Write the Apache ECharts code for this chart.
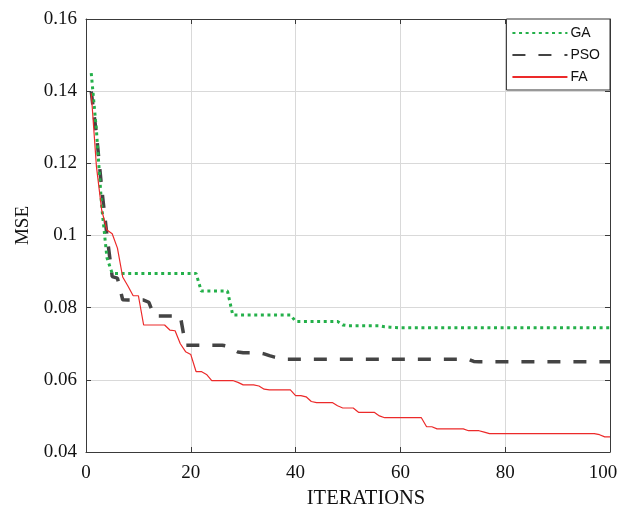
<!DOCTYPE html>
<html>
<head>
<meta charset="utf-8">
<script src="https://cdn.jsdelivr.net/npm/echarts@6/dist/echarts.min.js"></script>
<style>html,body{margin:0;padding:0;background:#fff;}#c{width:618px;height:512px;}</style>
</head>
<body>
<div id="c"></div>
<script>
// Iteration numbers (x values)
var iterations = [];
for (var k = 1; k <= 100; k++) iterations.push(k);

var xTicks = [0, 20, 40, 60, 80, 100];
var yTicks = [0.04, 0.06, 0.08, 0.1, 0.12, 0.14, 0.16];

var gaValues = [
  0.145, 0.129, 0.108, 0.0938, 0.0895,
  0.0895, 0.0895, 0.0895, 0.0895, 0.0895, 0.0895, 0.0895, 0.0895, 0.0895, 0.0895, 0.0895, 0.0895, 0.0895, 0.0895, 0.0895, 0.0895,
  0.0846, 0.0846, 0.0846, 0.0846, 0.0846, 0.0846,
  0.0780, 0.0780, 0.0780, 0.0780, 0.0780, 0.0780, 0.0780, 0.0780, 0.0780, 0.0780, 0.0780, 0.0780,
  0.0762, 0.0762, 0.0762, 0.0762, 0.0762, 0.0762, 0.0762, 0.0762, 0.0762,
  0.0752,
  0.0750, 0.0750, 0.0750, 0.0750, 0.0750, 0.0750, 0.0750,
  0.0747, 0.0746, 0.0745,
  0.0744, 0.0744, 0.0744, 0.0744, 0.0744, 0.0744, 0.0744, 0.0744, 0.0744, 0.0744,
  0.0744, 0.0744, 0.0744, 0.0744, 0.0744, 0.0744, 0.0744, 0.0744, 0.0744, 0.0744,
  0.0744, 0.0744, 0.0744, 0.0744, 0.0744, 0.0744, 0.0744, 0.0744, 0.0744, 0.0744,
  0.0744, 0.0744, 0.0744, 0.0744, 0.0744, 0.0744, 0.0744, 0.0744, 0.0744, 0.0744,
  0.0744
];

var psoValues = [
  0.1399, 0.128, 0.113, 0.100, 0.0886, 0.0882, 0.0822,
  0.0821, 0.0821, 0.0821, 0.0821,
  0.0815,
  0.0777, 0.0777, 0.0777, 0.0777, 0.0777, 0.0777,
  0.0696, 0.0696, 0.0696, 0.0696, 0.0696, 0.0696, 0.0696, 0.0696,
  0.0693, 0.0685, 0.0677,
  0.0675, 0.0675, 0.0675, 0.0675,
  0.0672, 0.0667, 0.0663, 0.0660,
  0.0657, 0.0657, 0.0657, 0.0657, 0.0657, 0.0657, 0.0657, 0.0657, 0.0657, 0.0657,
  0.0657, 0.0657, 0.0657, 0.0657, 0.0657, 0.0657, 0.0657, 0.0657, 0.0657, 0.0657,
  0.0657, 0.0657, 0.0657, 0.0657, 0.0657, 0.0657, 0.0657, 0.0657, 0.0657, 0.0657,
  0.0657, 0.0657, 0.0657, 0.0657, 0.0657, 0.0657,
  0.0651,
  0.0650, 0.0650, 0.0650, 0.0650, 0.0650, 0.0650, 0.0650, 0.0650, 0.0650, 0.0650,
  0.0650, 0.0650, 0.0650, 0.0650, 0.0650, 0.0650, 0.0650, 0.0650, 0.0650, 0.0650,
  0.0650, 0.0650, 0.0650, 0.0650, 0.0650, 0.0650
];

var faValues = [
  0.1394, 0.119, 0.107, 0.1015, 0.1005, 0.0965, 0.0885, 0.0860, 0.0833, 0.0833,
  0.0752, 0.0752, 0.0752, 0.0752, 0.0752,
  0.0738, 0.0736,
  0.0700, 0.0678, 0.0670,
  0.0623, 0.0623,
  0.0615,
  0.0598, 0.0598, 0.0598, 0.0598, 0.0598,
  0.0593,
  0.0586, 0.0586, 0.0586,
  0.0583, 0.0574,
  0.0572, 0.0572, 0.0572, 0.0572, 0.0572,
  0.0556, 0.0556, 0.0553, 0.0540,
  0.0537, 0.0537, 0.0537, 0.0537,
  0.0528,
  0.0522, 0.0522, 0.0522,
  0.0510, 0.0510, 0.0510, 0.0510,
  0.0500,
  0.0495, 0.0495, 0.0495, 0.0495, 0.0495, 0.0495, 0.0495, 0.0495,
  0.0470, 0.0470,
  0.0464, 0.0464, 0.0464, 0.0464, 0.0464, 0.0464,
  0.0459, 0.0459, 0.0459,
  0.0455,
  0.0451, 0.0451, 0.0451, 0.0451, 0.0451, 0.0451, 0.0451, 0.0451, 0.0451, 0.0451,
  0.0451, 0.0451, 0.0451, 0.0451, 0.0451, 0.0451, 0.0451, 0.0451, 0.0451, 0.0451,
  0.0451,
  0.0448, 0.0442, 0.0442
];

function pairs(vals) {
  return iterations.map(function (it, i) { return [it, vals[i]]; });
}

var serif = '"Liberation Serif", "DejaVu Serif", serif';
var axisColor = '#3a3a3a';
var chart = echarts.init(document.getElementById('c'), null, { renderer: 'canvas' });

var xBase = {
  type: 'value', min: xTicks[0], max: xTicks[xTicks.length - 1], interval: 20,
  axisLine: { show: true, onZero: false, lineStyle: { color: axisColor, width: 1 } },
  axisTick: { show: true, inside: true, length: 5, lineStyle: { color: axisColor } }
};
var yBase = {
  type: 'value', min: yTicks[0], max: yTicks[yTicks.length - 1], interval: 0.02,
  axisLine: { show: true, onZero: false, lineStyle: { color: axisColor, width: 1 } },
  axisTick: { show: true, inside: true, length: 5, lineStyle: { color: axisColor } }
};

chart.setOption({
  animation: false,
  backgroundColor: '#ffffff',
  grid: { left: 86, top: 19, width: 524, height: 433, containLabel: false, outerBoundsMode: 'none' },
  legend: {
    right: 8, top: 19,
    orient: 'vertical',
    backgroundColor: '#ffffff',
    borderColor: '#333333',
    borderWidth: 1,
    borderRadius: 0,
    padding: [7, 10, 6, 5],
    itemWidth: 55, itemHeight: 14, itemGap: 8,
    itemStyle: { opacity: 0 },
    textStyle: { fontFamily: '"Liberation Sans", Arial, sans-serif', fontSize: 14, color: '#111', padding: [0, 0, 0, -2] },
    data: ['GA', 'PSO', 'FA']
  },
  xAxis: [
    Object.assign({}, xBase, {
      position: 'bottom',
      name: 'ITERATIONS', nameLocation: 'middle', nameGap: 33,
      nameTextStyle: { fontFamily: serif, fontSize: 20.5, color: '#111', padding: [0, 0, 0, 36] },
      axisLabel: {
        show: true, margin: 12, fontFamily: serif, fontSize: 19, color: '#111',
        formatter: function (v) { return v === xTicks[xTicks.length - 1] ? '{m|' + v + '}' : String(v); },
        rich: { m: { fontFamily: serif, fontSize: 19, color: '#111', padding: [0, 14, 0, 0] } }
      },
      splitLine: { show: true, lineStyle: { color: '#d9d9d9', width: 1 } }
    }),
    Object.assign({}, xBase, {
      position: 'top',
      axisLabel: { show: false },
      splitLine: { show: false }
    })
  ],
  yAxis: [
    Object.assign({}, yBase, {
      position: 'left',
      name: 'MSE', nameLocation: 'middle', nameGap: 50, nameRotate: 90,
      nameTextStyle: { fontFamily: serif, fontSize: 19, color: '#111', padding: [0, 0, 0, 20] },
      axisLabel: {
        show: true, margin: 9, fontFamily: serif, fontSize: 19, color: '#111',
        formatter: function (v) { return String(parseFloat(v.toFixed(2))); }
      },
      splitLine: { show: true, lineStyle: { color: '#d9d9d9', width: 1 } }
    }),
    Object.assign({}, yBase, {
      position: 'right',
      axisLabel: { show: false },
      splitLine: { show: false }
    })
  ],
  series: [
    {
      name: 'GA', type: 'line', xAxisIndex: 0, yAxisIndex: 0,
      data: pairs(gaValues), symbol: 'none', z: 3,
      lineStyle: { color: '#24b04a', width: 3, type: [3, 3.6], cap: 'butt' },
      itemStyle: { color: '#24b04a' }
    },
    {
      name: 'PSO', type: 'line', xAxisIndex: 0, yAxisIndex: 0,
      data: pairs(psoValues), symbol: 'none', z: 2,
      lineStyle: { color: '#444444', width: 3.5, type: [13, 13], cap: 'butt' },
      itemStyle: { color: '#444444' }
    },
    {
      name: 'FA', type: 'line', xAxisIndex: 0, yAxisIndex: 0,
      data: pairs(faValues), symbol: 'none', z: 4,
      lineStyle: { color: '#ec2a2a', width: 1.2 },
      itemStyle: { color: '#ec2a2a' }
    }
  ]
});
</script>
</body>
</html>
